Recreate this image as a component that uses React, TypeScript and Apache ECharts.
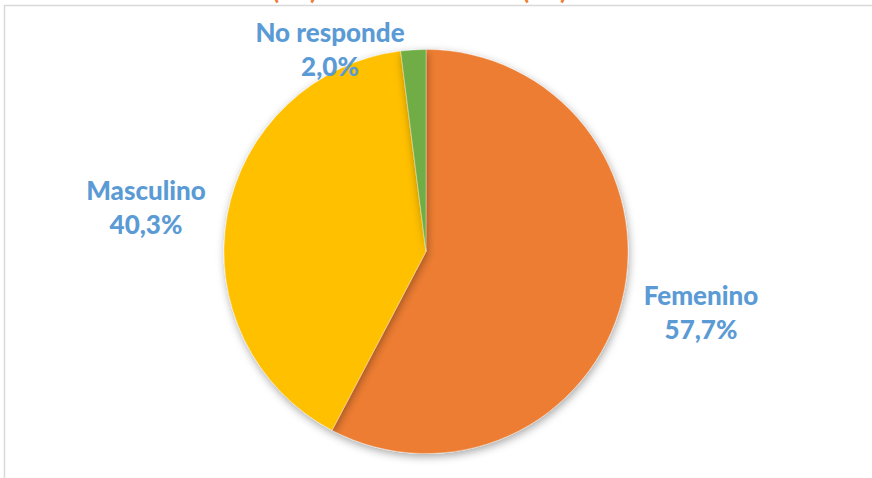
import React, { useEffect, useRef } from "react";
import * as echarts from "echarts";

const categories = ["Femenino", "Masculino", "No responde"];
const percentValues = [57.7, 40.3, 2.0];
const sliceColors = ["#ED7D31", "#FFC000", "#70AD47"];

export default function App() {
  const ref = useRef<HTMLDivElement>(null);
  useEffect(() => {
    if (!ref.current) return;
    const chart = echarts.init(ref.current, undefined, { renderer: "svg" });
    const labelPos: Record<number, [number, number]> = {
      0: [701, 312],
      1: [146, 207],
      2: [330, 49],
    };
    const parenStyle = {
      fill: "#ED7D31",
      font: "bold 26px Lato, 'Noto Sans', sans-serif",
      textVerticalAlign: "bottom",
    };
    chart.setOption({
      animation: false,
      backgroundColor: "#ffffff",
      graphic: [
        {
          type: "rect",
          silent: true,
          shape: { x: 4.5, y: 5.5, width: 1000, height: 1000 },
          style: { fill: "none", stroke: "#D9D9D9", lineWidth: 1.5 },
        },
        { type: "text", x: 272, y: 2, style: { ...parenStyle, text: "(" } },
        { type: "text", x: 310, y: 2, style: { ...parenStyle, text: ")" } },
        { type: "text", x: 522, y: 2, style: { ...parenStyle, text: "(" } },
        { type: "text", x: 560, y: 2, style: { ...parenStyle, text: ")" } },
      ],
      series: [
        {
          type: "pie",
          center: [426, 251.5],
          radius: 202,
          startAngle: 90,
          clockwise: true,
          silent: true,
          data: categories.map((c, i) => ({
            name: c,
            value: percentValues[i],
            itemStyle: { color: sliceColors[i] },
          })),
          itemStyle: {
            borderColor: "rgba(255,255,255,0.6)",
            borderWidth: 0.5,
            shadowBlur: 8,
            shadowColor: "rgba(0,0,0,0.35)",
            shadowOffsetX: 1,
            shadowOffsetY: 3,
          },
          label: {
            show: true,
            position: "outside",
            formatter: (p: any) =>
              p.name + "\n" + Number(p.value).toFixed(1).replace(".", ",") + "%",
            color: "#5B9BD5",
            fontFamily: "Lato, 'Noto Sans', sans-serif",
            fontWeight: 900,
            fontSize: 26,
            lineHeight: 34,
            align: "center",
          },
          labelLine: { show: false },
          labelLayout: (params: any) => {
            const pos = labelPos[params.dataIndex];
            return {
              x: pos[0],
              y: pos[1],
              align: "center",
              verticalAlign: "middle",
            };
          },
        },
      ],
    });
    return () => chart.dispose();
  }, []);
  return (
    <div
      ref={ref}
      style={{ position: "absolute", left: 0, top: 0, width: 872, height: 478 }}
    />
  );
}
